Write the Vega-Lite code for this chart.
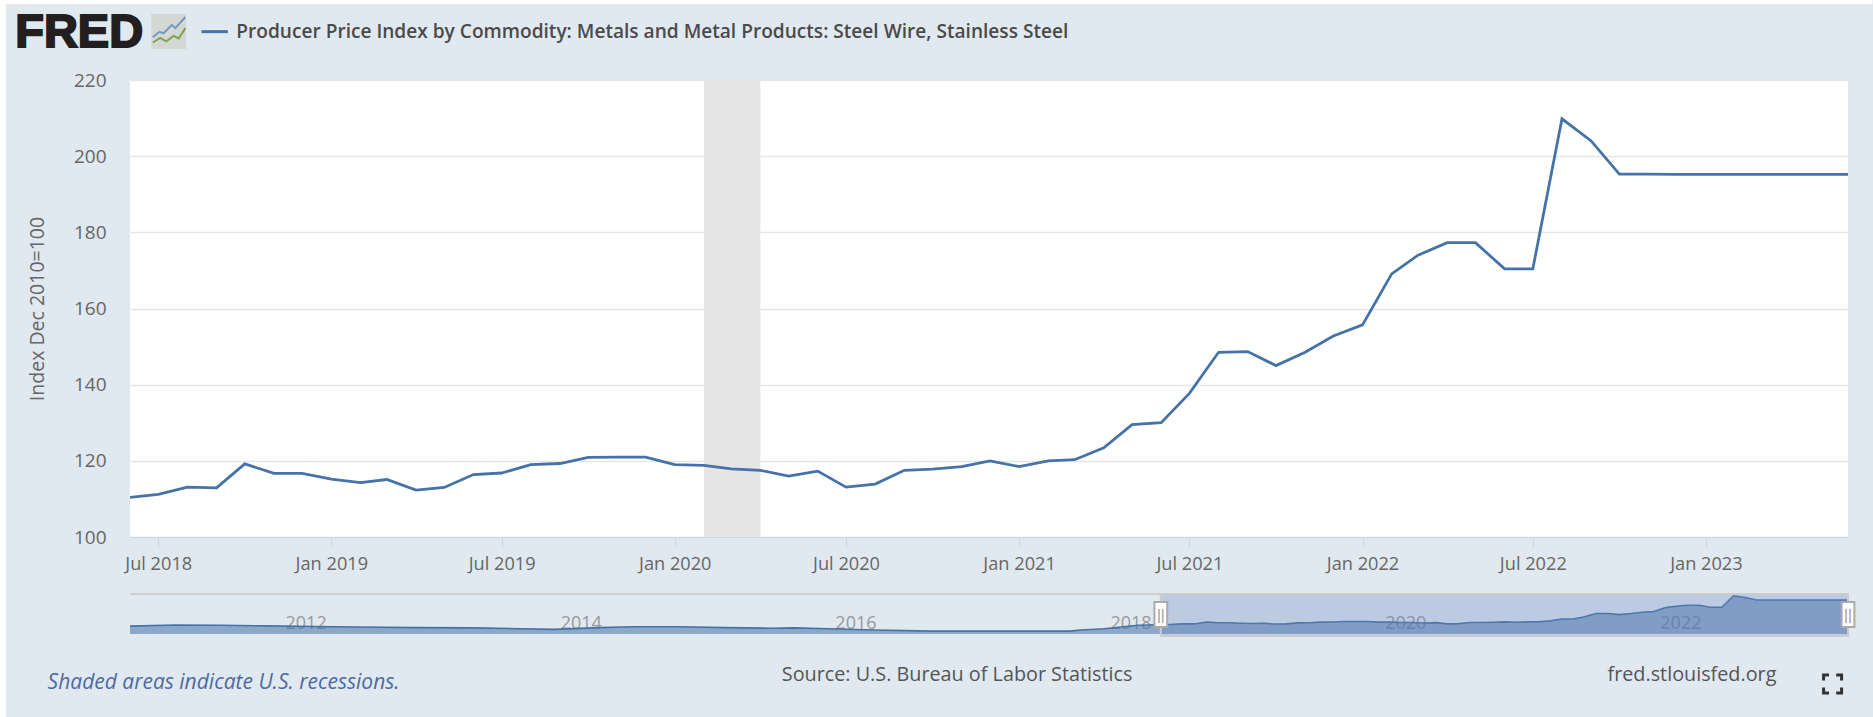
{
"$schema":"https://vega.github.io/schema/vega-lite/v6.json",
"background":"#e1e9f0",
"padding":0,
"bounds":"flush",
"spacing":57,
"config":{"view":{"stroke":null},"font":"Open Sans"},
"datasets":{
"one":[{}],
"recession":[{"start":"2020-02-01","end":"2020-04-01"}],
"series":[
{"date":"2010-12-01","value":105},{"date":"2011-04-01","value":109},{"date":"2011-08-01","value":108},{"date":"2011-12-01","value":106},{"date":"2012-04-01","value":104},{"date":"2012-08-01","value":102},{"date":"2013-01-01","value":100},{"date":"2013-06-01","value":99},{"date":"2014-01-01","value":94},{"date":"2014-05-01","value":100},{"date":"2014-08-01","value":103},{"date":"2014-12-01","value":103},{"date":"2015-04-01","value":100},{"date":"2015-08-01","value":98},{"date":"2015-10-01","value":99},{"date":"2016-01-01","value":96},{"date":"2016-05-01","value":92},{"date":"2016-10-01","value":88},{"date":"2017-04-01","value":88},{"date":"2017-10-01","value":88},{"date":"2017-11-01","value":92},{"date":"2018-01-01","value":96},{"date":"2018-03-01","value":104},{"date":"2018-04-01","value":108},{"date":"2018-05-01","value":109},
{"date":"2018-06-01","value":110.4},{"date":"2018-07-01","value":111.2},{"date":"2018-08-01","value":113.1},{"date":"2018-09-01","value":112.9},{"date":"2018-10-01","value":119.2},{"date":"2018-11-01","value":116.7},{"date":"2018-12-01","value":116.7},
{"date":"2019-01-01","value":115.2},{"date":"2019-02-01","value":114.3},{"date":"2019-03-01","value":115.1},{"date":"2019-04-01","value":112.3},{"date":"2019-05-01","value":113},{"date":"2019-06-01","value":116.4},{"date":"2019-07-01","value":116.8},{"date":"2019-08-01","value":119},{"date":"2019-09-01","value":119.3},{"date":"2019-10-01","value":120.9},{"date":"2019-11-01","value":121},{"date":"2019-12-01","value":121},
{"date":"2020-01-01","value":119},{"date":"2020-02-01","value":118.8},{"date":"2020-03-01","value":117.9},{"date":"2020-04-01","value":117.5},{"date":"2020-05-01","value":116},{"date":"2020-06-01","value":117.3},{"date":"2020-07-01","value":113.1},{"date":"2020-08-01","value":113.9},{"date":"2020-09-01","value":117.5},{"date":"2020-10-01","value":117.8},{"date":"2020-11-01","value":118.5},{"date":"2020-12-01","value":120},
{"date":"2021-01-01","value":118.5},{"date":"2021-02-01","value":120},{"date":"2021-03-01","value":120.3},{"date":"2021-04-01","value":123.4},{"date":"2021-05-01","value":129.5},{"date":"2021-06-01","value":130},{"date":"2021-07-01","value":137.7},{"date":"2021-08-01","value":148.5},{"date":"2021-09-01","value":148.7},{"date":"2021-10-01","value":145},{"date":"2021-11-01","value":148.5},{"date":"2021-12-01","value":152.8},
{"date":"2022-01-01","value":155.7},{"date":"2022-02-01","value":169.1},{"date":"2022-03-01","value":174},{"date":"2022-04-01","value":177.3},{"date":"2022-05-01","value":177.3},{"date":"2022-06-01","value":170.4},{"date":"2022-07-01","value":170.4},{"date":"2022-08-01","value":209.8},{"date":"2022-09-01","value":204},{"date":"2022-10-01","value":195.3},{"date":"2022-11-01","value":195.3},{"date":"2022-12-01","value":195.2},
{"date":"2023-01-01","value":195.2},{"date":"2023-02-01","value":195.2},{"date":"2023-03-01","value":195.2},{"date":"2023-04-01","value":195.2},{"date":"2023-05-01","value":195.2},{"date":"2023-06-01","value":195.2}
]},
"vconcat":[
{"width":1718,"height":457,"view":{"fill":"#ffffff"},
"resolve":{"axis":{"x":"independent","y":"independent"}},
"layer":[
{"data":{"name":"recession"},"mark":{"type":"rect","color":"#e5e5e5"},
 "encoding":{"x":{"field":"start","type":"temporal","axis":null},"x2":{"field":"end"}}},
{"data":{"name":"series"},"mark":{"type":"line","color":"#4572a7","strokeWidth":2.8,"clip":true},
 "encoding":{
  "x":{"field":"date","type":"temporal","title":null,"scale":{"domain":[{"year":2018,"month":6,"date":1},{"year":2023,"month":6,"date":1}]},
   "axis":{"values":[{"year":2018,"month":7,"date":1},{"year":2019,"month":1,"date":1},{"year":2019,"month":7,"date":1},{"year":2020,"month":1,"date":1},{"year":2020,"month":7,"date":1},{"year":2021,"month":1,"date":1},{"year":2021,"month":7,"date":1},{"year":2022,"month":1,"date":1},{"year":2022,"month":7,"date":1},{"year":2023,"month":1,"date":1}],
    "format":"%b %Y","grid":false,"domainColor":"#ccd6eb","tickColor":"#ccd6eb","tickSize":10,"labelColor":"#666666","labelFontSize":18.2,"labelPadding":8,"labelFlush":false,"labelOverlap":false}},
  "y":{"field":"value","type":"quantitative","scale":{"domain":[100,220],"nice":false,"zero":false},
   "axis":{"values":[100,120,140,160,180,200,220],"title":"Index Dec 2010=100","titleFontSize":19.5,"titleFontWeight":"normal","titleColor":"#666666","titlePadding":26,"labelColor":"#666666","labelFontSize":19,"labelPadding":24,"ticks":false,"domain":false,"grid":true,"gridColor":"#e6e6e6","gridWidth":1.5}}
 }},
{"data":{"name":"one"},"mark":{"type":"rect","color":"#ffffff"},
 "encoding":{"x":{"datum":{"year":2018,"month":1,"date":14},"type":"temporal","axis":null},"x2":{"datum":{"year":2023,"month":6,"date":27}},"y":{"datum":241,"type":"quantitative","axis":null},"y2":{"datum":239.95}}},
{"data":{"name":"one"},"mark":{"type":"rect","color":"#ffffff"},
 "encoding":{"x":{"datum":{"year":2018,"month":1,"date":14},"type":"temporal","axis":null},"x2":{"datum":{"year":2018,"month":1,"date":20}},"y":{"datum":241,"type":"quantitative","axis":null},"y2":{"datum":52.7}}},
{"data":{"name":"one"},"mark":{"type":"text","text":"FRED","font":"Liberation Sans","fontWeight":"bold","fontSize":47,"align":"left","baseline":"middle","color":"#231f20","stroke":"#231f20","strokeWidth":2},
 "encoding":{"x":{"datum":{"year":2018,"month":1,"date":30},"type":"temporal","axis":null},"y":{"datum":232.4,"type":"quantitative","axis":null}}},
{"data":{"name":"one"},"mark":{"type":"point","shape":"square","filled":true,"color":"#d5d7d5","opacity":1,"size":1225},
 "encoding":{"x":{"datum":{"year":2018,"month":7,"date":12},"type":"temporal","axis":null},"y":{"datum":232.74,"type":"quantitative","axis":null}}},
{"data":{"name":"one"},"mark":{"type":"point","shape":"M-.9,.33L-.52,.02L-.29,.1L.19,-.38L.38,-.19L.96,-.83","filled":false,"color":"#6f9bc2","opacity":1,"strokeWidth":2,"size":1225},
 "encoding":{"x":{"datum":{"year":2018,"month":7,"date":12},"type":"temporal","axis":null},"y":{"datum":232.74,"type":"quantitative","axis":null}}},
{"data":{"name":"one"},"mark":{"type":"point","shape":"M-.9,.63L-.48,.37L-.13,.56L.29,.25L.58,.4L.96,-.19","filled":false,"color":"#7fa34f","opacity":1,"strokeWidth":2,"size":1225},
 "encoding":{"x":{"datum":{"year":2018,"month":7,"date":12},"type":"temporal","axis":null},"y":{"datum":232.74,"type":"quantitative","axis":null}}},
{"data":{"name":"one"},"mark":{"type":"rule","color":"#4572a7","strokeWidth":3},
 "encoding":{"x":{"datum":{"year":2018,"month":8,"date":16},"type":"temporal","axis":null},"x2":{"datum":{"year":2018,"month":9,"date":13}},"y":{"datum":232.7,"type":"quantitative","axis":null}}},
{"data":{"name":"one"},"mark":{"type":"text","text":"Producer Price Index by Commodity: Metals and Metal Products: Steel Wire, Stainless Steel","fontSize":19.1,"fontWeight":600,"align":"left","baseline":"middle","color":"#4a4a4a"},
 "encoding":{"x":{"datum":{"year":2018,"month":9,"date":22},"type":"temporal","axis":null},"y":{"datum":232.6,"type":"quantitative","axis":null}}}
]},
{"width":1718,"height":40,
"resolve":{"axis":{"x":"independent","y":"independent"}},
"layer":[
{"data":{"name":"series"},"mark":{"type":"area","color":"#4572a7","opacity":0.55},
 "encoding":{
  "x":{"field":"date","type":"temporal","title":null,"scale":{"domain":[{"year":2010,"month":12,"date":1},{"year":2023,"month":6,"date":1}]},
   "axis":{"values":[{"year":2012,"month":1,"date":1},{"year":2014,"month":1,"date":1},{"year":2016,"month":1,"date":1},{"year":2018,"month":1,"date":1},{"year":2020,"month":1,"date":1},{"year":2022,"month":1,"date":1}],"format":"%Y","domain":false,"ticks":false,"grid":true,"gridColor":"#e6e6e6","labelColor":"#999999","labelFontSize":18,"labelAlign":"left","labelOffset":6,"labelPadding":-20,"labelFlush":false,"labelOverlap":false}},
  "y":{"field":"value","type":"quantitative","scale":{"domain":[78,216],"nice":false,"zero":false},"axis":null},
  "y2":{"datum":78}}},
{"data":{"name":"series"},"mark":{"type":"line","color":"#4572a7","strokeWidth":1.6},
 "encoding":{"x":{"field":"date","type":"temporal","axis":null},"y":{"field":"value","type":"quantitative","axis":null}}},
{"data":{"name":"one"},"mark":{"type":"rule","color":"#cfcfcf","strokeWidth":2},
 "encoding":{"y":{"datum":216,"type":"quantitative","axis":null}}},
{"data":{"name":"one"},"mark":{"type":"rect","fill":"#6685c2","fillOpacity":0.3,"stroke":"#cccccc","strokeWidth":2},
 "encoding":{"x":{"datum":{"year":2018,"month":6,"date":1},"type":"temporal","axis":null},"x2":{"datum":{"year":2023,"month":6,"date":1}},"y":{"datum":216,"type":"quantitative","axis":null},"y2":{"datum":71}}},
{"data":{"name":"one"},"mark":{"type":"rect","fill":"#ffffff","stroke":"#aaaaaa","strokeWidth":2},
 "encoding":{"x":{"datum":{"year":2018,"month":5,"date":15},"type":"temporal","axis":null},"x2":{"datum":{"year":2018,"month":6,"date":18}},"y":{"datum":188.4,"type":"quantitative","axis":null},"y2":{"datum":102.2}}},
{"data":{"name":"one"},"mark":{"type":"rect","fill":"#ffffff","stroke":"#aaaaaa","strokeWidth":2},
 "encoding":{"x":{"datum":{"year":2023,"month":5,"date":15},"type":"temporal","axis":null},"x2":{"datum":{"year":2023,"month":6,"date":18}},"y":{"datum":188.4,"type":"quantitative","axis":null},"y2":{"datum":102.2}}},
{"data":{"name":"one"},"mark":{"type":"text","text":"||","font":"Liberation Sans","fontSize":15,"color":"#999999","align":"center","baseline":"middle"},
 "encoding":{"x":{"datum":{"year":2018,"month":6,"date":1},"type":"temporal","axis":null},"y":{"datum":145,"type":"quantitative","axis":null}}},
{"data":{"name":"one"},"mark":{"type":"text","text":"||","font":"Liberation Sans","fontSize":15,"color":"#999999","align":"center","baseline":"middle"},
 "encoding":{"x":{"datum":{"year":2023,"month":6,"date":1},"type":"temporal","axis":null},"y":{"datum":145,"type":"quantitative","axis":null}}},
{"data":{"name":"one"},"mark":{"type":"text","text":"Shaded areas indicate U.S. recessions.","fontSize":21,"fontStyle":"italic","align":"left","baseline":"middle","color":"#4d6aa3"},
 "encoding":{"x":{"datum":{"year":2010,"month":4,"date":26},"type":"temporal","axis":null},"y":{"datum":-90,"type":"quantitative","axis":null}}},
{"data":{"name":"one"},"mark":{"type":"text","text":"Source: U.S. Bureau of Labor Statistics","fontSize":19.8,"align":"left","baseline":"middle","color":"#555555"},
 "encoding":{"x":{"datum":{"year":2015,"month":8,"date":29},"type":"temporal","axis":null},"y":{"datum":-63,"type":"quantitative","axis":null}}},
{"data":{"name":"one"},"mark":{"type":"text","text":"fred.stlouisfed.org","fontSize":19.8,"align":"left","baseline":"middle","color":"#555555"},
 "encoding":{"x":{"datum":{"year":2021,"month":8,"date":31},"type":"temporal","axis":null},"y":{"datum":-63,"type":"quantitative","axis":null}}},
{"data":{"name":"one"},"mark":{"type":"point","shape":"M-1,-.4V-1H-.4M.4,-1H1V-.4M1,.4V1H.4M-.4,1H-1V.4","filled":false,"color":"#333333","opacity":1,"strokeWidth":3,"size":324},
 "encoding":{"x":{"datum":{"year":2023,"month":4,"date":21},"type":"temporal","axis":null},"y":{"datum":-94.5,"type":"quantitative","axis":null}}}
]}
]}
